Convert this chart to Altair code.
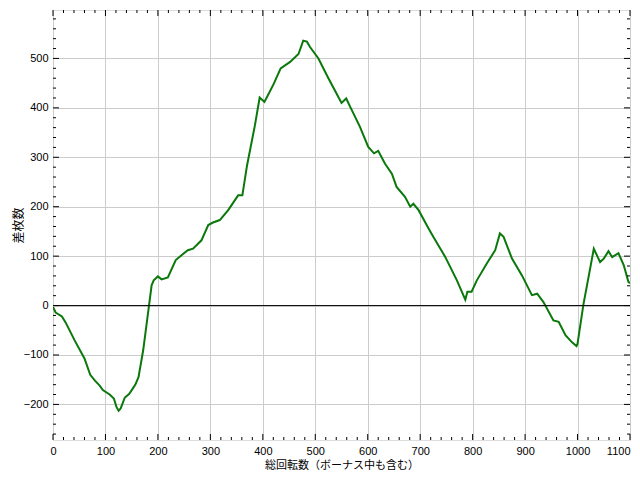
import altair as alt
import pandas as pd

spins = [0, 5, 17, 24, 41, 60, 71, 80, 89, 95, 108, 116, 121, 125, 129, 137, 145, 152, 157, 163,
         172, 183, 188, 192, 200, 207, 219, 234, 245, 257, 267, 283, 296, 305, 318, 334, 353, 361,
         370, 385, 394, 403, 408, 421, 434, 452, 468, 477, 484, 490, 506, 525, 542, 550, 559, 568,
         585, 601, 612, 620, 633, 646, 655, 671, 681, 687, 697, 716, 725, 748, 770, 786, 790, 798,
         808, 827, 843, 852, 859, 875, 894, 913, 923, 935, 954, 964, 977, 989, 998, 1000, 1011,
         1031, 1043, 1050, 1059, 1066, 1078, 1088, 1097, 1100]
diff = [-3, -14, -22, -34, -70, -107, -140, -152, -162, -171, -180, -188, -205, -213, -208, -186,
        -179, -168, -160, -145, -90, 0, 41, 51, 59, 53, 57, 92, 102, 112, 115, 132, 163, 168, 173,
        193, 223, 223, 284, 365, 421, 412, 422, 449, 480, 493, 509, 536, 534, 523, 500, 460, 426,
        410, 419, 399, 362, 321, 308, 313, 287, 267, 240, 220, 200, 206, 193, 156, 139, 98, 51, 12,
        28, 28, 51, 85, 112, 146, 139, 95, 61, 21, 24, 7, -30, -33, -60, -74, -82, -77, 1, 115,
        88, 95, 110, 98, 106, 82, 48, 45]
assert len(spins) == len(diff)

x_major = list(range(0, 1101, 100))
x_minor = [v for v in range(0, 1101, 20) if v % 100 != 0]
y_major = list(range(-200, 501, 100))
y_minor = [v for v in range(-260, 600, 20) if v % 100 != 0]

W, H = 577, 430
XDOM = [0, 1100]
YDOM = [-272, 598]

df = pd.DataFrame({"x": spins, "y": diff})
xs = alt.Scale(domain=XDOM, nice=False, zero=False)
ys = alt.Scale(domain=YDOM, nice=False, zero=False)

xaxis = alt.Axis(values=x_major, format="d", grid=True, ticks=False, domain=False,
                 labelPadding=5, labelFontSize=11, labelFont="Liberation Sans",
                 labelColor="#000", titleFont="Noto Sans CJK JP",
                 titleFontSize=11, titleFontWeight="normal", titleColor="#000",
                 titlePadding=3, gridColor="#cccccc", labelFlush=False,
                 labelAlign={"condition": {"test": "datum.value >= 1100", "value": "right"},
                             "value": "center"})
yaxis = alt.Axis(values=y_major, format="d", grid=True, ticks=False, domain=False,
                 labelPadding=5, labelFontSize=11, labelFont="Liberation Sans",
                 labelColor="#000", titleFont="Noto Sans CJK JP",
                 titleFontSize=12, titleFontWeight="normal", titleColor="#000",
                 titleX=-35, titleBaseline="middle", gridColor="#cccccc")
XT = "総回転数（ボーナス中も含む）"
YT = "差枚数"


def X():
    return alt.X("x:Q", scale=xs, axis=xaxis, title=XT)


def Y():
    return alt.Y("y:Q", scale=ys, axis=yaxis, title=YT)


line = alt.Chart(df).mark_line(color="#0a780a", strokeWidth=2, clip=True).encode(x=X(), y=Y())

zero = alt.Chart(pd.DataFrame({"y": [0]})).mark_rule(color="#000", strokeWidth=1).encode(y=Y())


def xticks(vals, length):
    d = pd.DataFrame({"x": vals})
    bottom = alt.Chart(d).mark_rule(color="#000").encode(
        x=X(), y=alt.value(H), y2=alt.value(H - length))
    top = alt.Chart(d).mark_rule(color="#000").encode(
        x=X(), y=alt.value(0), y2=alt.value(length))
    return [bottom, top]


def yticks(vals, length):
    d = pd.DataFrame({"y": vals})
    left = alt.Chart(d).mark_rule(color="#000").encode(
        y=Y(), x=alt.value(0), x2=alt.value(length))
    right = alt.Chart(d).mark_rule(color="#000").encode(
        y=Y(), x=alt.value(W), x2=alt.value(W - length))
    return [left, right]


layers = [line, zero] + xticks(x_major, 6) + xticks(x_minor, 3) + yticks(y_major, 6) + yticks(y_minor, 3)

chart = alt.layer(*layers).properties(
    width=W, height=H,
    autosize=alt.AutoSizeParams(type="none"),
    padding={"left": 45, "top": 2, "right": 2, "bottom": 30},
).configure_view(stroke="#000", strokeWidth=1.5).configure(background="white")

chart.save("out.html", embed_options={"renderer": "svg", "actions": False})
